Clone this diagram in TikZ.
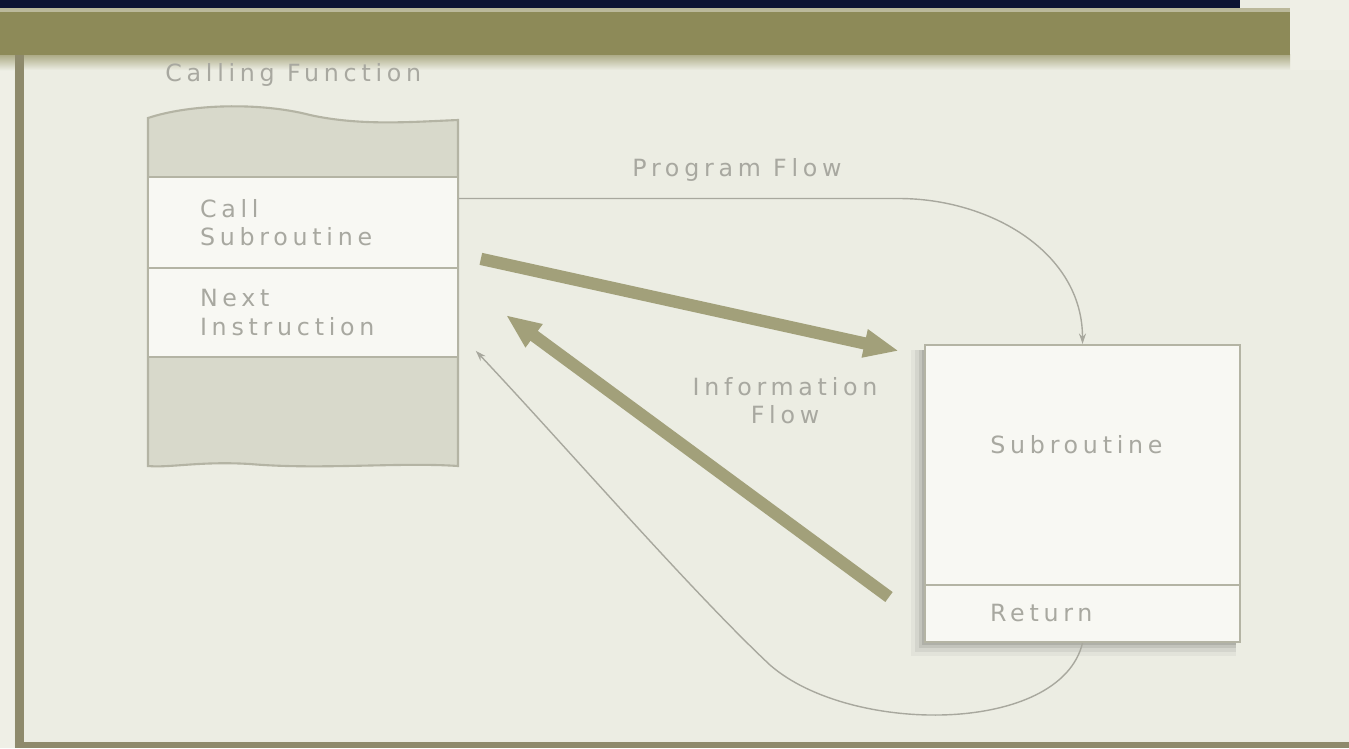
\documentclass[tikz,border=0pt]{standalone}
\usepackage{fontspec}
\setmainfont{DejaVu Sans}[LetterSpace=20]
\usetikzlibrary{arrows.meta}
\definecolor{bg}{HTML}{ECEDE3}
\definecolor{cream}{HTML}{EFEFE6}
\definecolor{navy}{HTML}{0E1433}
\definecolor{band}{HTML}{8D8A58}
\definecolor{frame}{HTML}{8E8A6C}
\definecolor{tornfill}{HTML}{D8D9CB}
\definecolor{boxline}{HTML}{B4B4A4}
\definecolor{paper}{HTML}{F8F8F3}
\definecolor{fatcol}{HTML}{A2A07A}
\definecolor{thinline}{HTML}{A8A89E}
\definecolor{ink}{HTML}{A8A8A0}
\tikzset{
  sect/.style={draw=boxline, line width=1pt, fill=paper, minimum width=6.2cm,
    text width=4.12cm, align=left, inner sep=0pt, text=ink},
  subbox/.style={draw=boxline, line width=1.2pt, fill=paper, minimum width=6.3cm,
    text width=3.7cm, align=left, inner sep=0pt, text=ink},
  lbl/.style={text=ink, align=center, inner sep=0pt},
  fat/.style={draw=fatcol, line width=7pt, -{Triangle[length=20pt,width=15pt]}},
  flow/.style={draw=thinline, line width=0.8pt, -{Stealth[length=6pt,width=4pt]}}
}
\begin{document}
\begin{tikzpicture}[x=0.02cm, y=-0.02cm, font=\fontsize{13.5}{16}\selectfont]
  \useasboundingbox (0,0) rectangle (1349,748);
  \fill[bg] (0,0) rectangle (1349,748);
  \fill[cream] (0,0) rectangle (14,748);
  \fill[cream] (1290,0) rectangle (1349,70);
  \shade[top color=band!70!bg, bottom color=bg] (0,54) rectangle (1290,70);
  \fill[band] (0,8) rectangle (1290,55);
  \fill[band!60!white] (0,8) rectangle (1290,12);
  \fill[navy] (0,0) rectangle (1240,8);
  \fill[frame] (15,55) rectangle (24,748);
  \fill[frame] (15,742) rectangle (1349,748);

  \node[lbl, anchor=west] (caller) at (165,75) {Calling Function};
  \fill[tornfill, draw=boxline, line width=1.2pt] (148,118)
    .. controls (190,104) and (260,102) .. (310,115)
    .. controls (360,126) and (410,122) .. (458,120) -- (458,466)
    .. controls (400,462) and (320,470) .. (250,464)
    .. controls (200,461) and (170,468) .. (148,466) -- cycle;
  \node[sect, minimum height=1.82cm] (call) at (303,222.5) {Call\\Subroutine};
  \node[sect, minimum height=1.78cm] (next) at (303,312.5) {Next\\Instruction};

  \foreach \d/\o in {14/0.04, 10/0.06, 6/0.08, 3/0.1}
    \fill[black, opacity=\o] (925-\d,350) rectangle (1236,642+\d);
  \node[subbox, minimum height=4.8cm] (sub) at (1082.5,465) {};
  \node[subbox, minimum height=1.14cm] (ret) at (1082.5,613.5) {Return};
  \node[lbl, anchor=west] (subname) at (990,445) {Subroutine};

  \node[lbl] (pflow) at (737,170) {Program Flow};
  \node[lbl] (iflow) at (785,401) {Information\\Flow};

  \draw[flow] ([yshift=0.48cm]call.east) -- ++(440,0) to[out=0, in=90] (sub.north);
  \draw[fat] ([xshift=0.44cm,yshift=0.2cm]call.south east)
    -- ([xshift=-0.5cm,yshift=-0.14cm]sub.north west);
  \draw[fat] ([xshift=-0.7cm,yshift=0.33cm]ret.west)
    -- ([xshift=0.94cm,yshift=-0.05cm]next.east);
  \draw[flow] (ret.south) .. controls (1060,735) and (850,735) .. (770,665)
    .. controls (690,590) and (560,440) .. ([xshift=0.34cm,yshift=0.14cm]next.south east);
\end{tikzpicture}
\end{document}
